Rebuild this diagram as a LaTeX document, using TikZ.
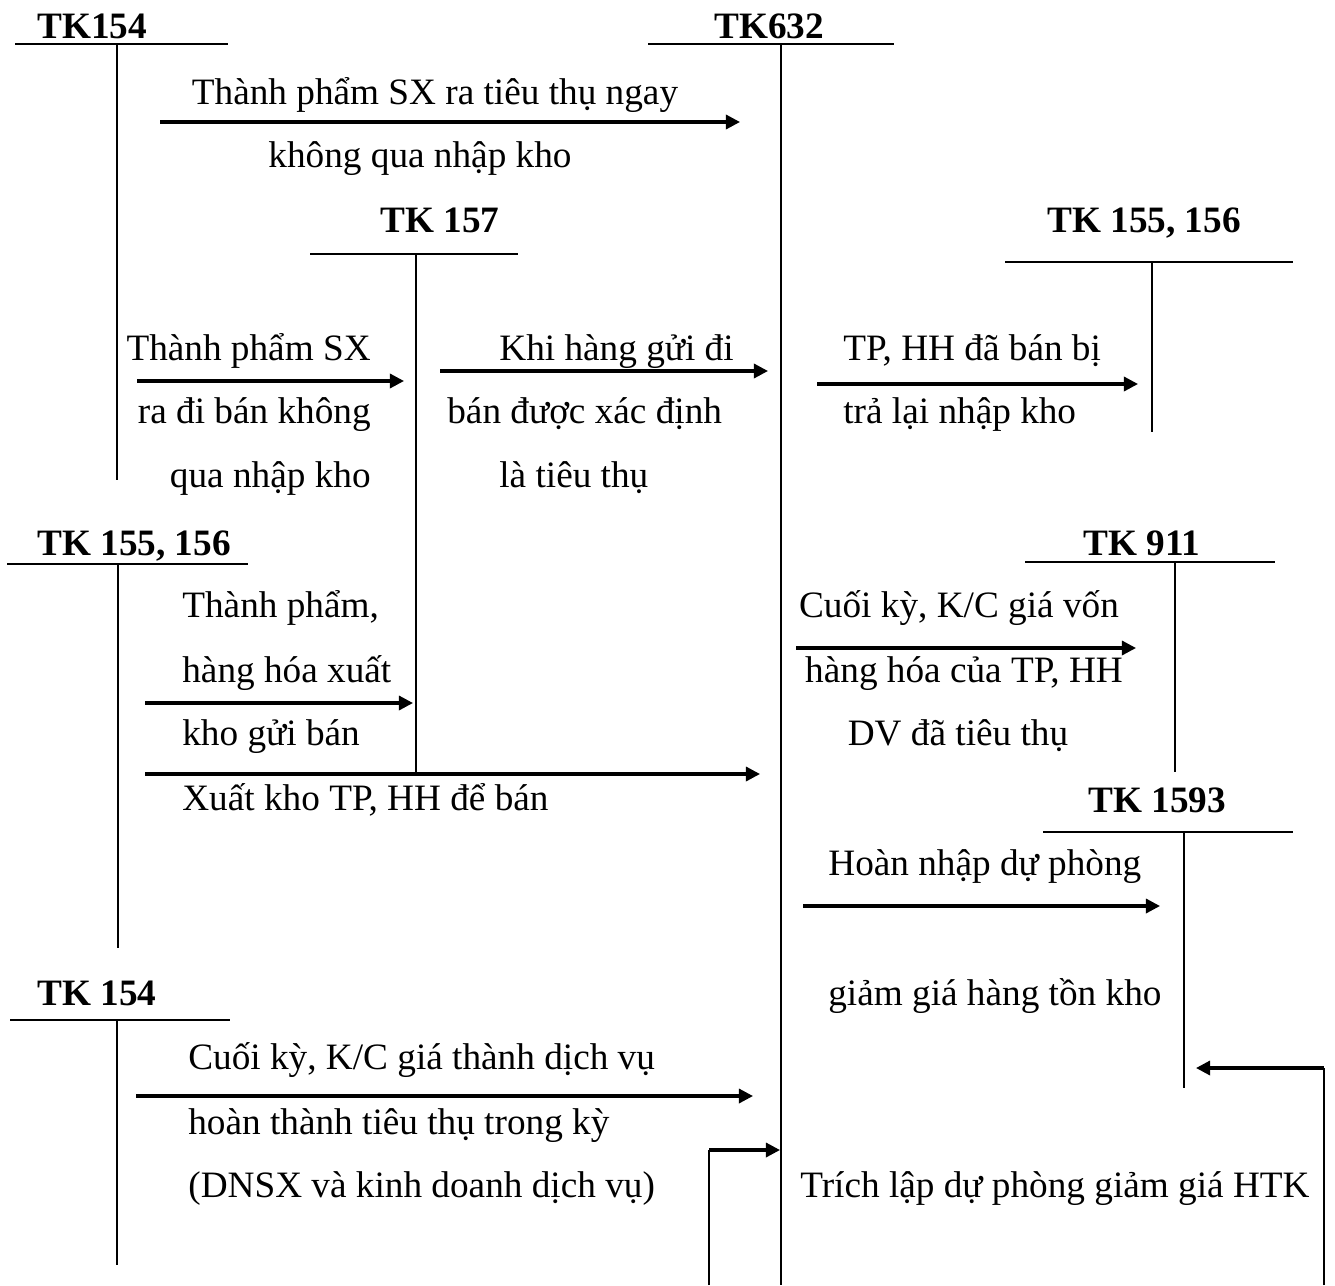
\documentclass[tikz,border=0pt]{standalone}
\usepackage{fontspec}
\setmainfont{Liberation Serif}
\usetikzlibrary{arrows.meta}
\tikzset{
  txt/.style={inner sep=0pt, font=\fontsize{21.2}{25}\selectfont},
  acct/.style={txt, font=\fontsize{21.2}{25}\selectfont\bfseries},
  bar/.style={line width=1.4pt},
  stem/.style={line width=1pt},
  post/.style={-{Triangle[length=8pt, width=8pt]}, line width=1.8pt},
}
% #1 name, #2 title, #3 title base, #4/#5 bar ends, #6 bar y, #7 stem x, #8 stem end
\newcommand{\tacct}[8]{%
  \node[acct, anchor=base west] (#1) at #3 {#2};
  \draw[bar] (#4,#6) -- (#5,#6);
  \draw[stem] (#7,#6) -- (#7,#8);}

\begin{document}
\begin{tikzpicture}[x=0.02cm, y=-0.02cm]
  \useasboundingbox (0,0) rectangle (1335,1285);
  % accounts
  \tacct{tkA}{TK154}{(37,38)}{15}{228}{44}{117}{480}
  \tacct{tkB}{TK632}{(714,38)}{648}{894}{44}{781}{1285}
  \tacct{tkC}{TK 157}{(380,232)}{310}{518}{254}{416}{772}
  \tacct{tkD}{TK 155, 156}{(1047,232)}{1005}{1293}{262}{1152}{432}
  \tacct{tkE}{TK 155, 156}{(37,555)}{7}{248}{564}{118}{948}
  \tacct{tkF}{TK 911}{(1083,555)}{1025}{1275}{562}{1175}{772}
  \tacct{tkG}{TK 1593}{(1088,812)}{1043}{1293}{832}{1184}{1088}
  \tacct{tkH}{TK 154}{(37,1005)}{10}{230}{1020}{117}{1265}
  % arrow ends
  \coordinate (a0) at (160,122);  \coordinate (a1) at (740,122);
  \coordinate (b0) at (137,381);  \coordinate (b1) at (404,381);
  \coordinate (c0) at (440,371);  \coordinate (c1) at (768,371);
  \coordinate (d0) at (817,384);  \coordinate (d1) at (1138,384);
  \coordinate (e0) at (796,648);  \coordinate (e1) at (1136,648);
  \coordinate (f0) at (145,703);  \coordinate (f1) at (413,703);
  \coordinate (g0) at (145,774);  \coordinate (g1) at (760,774);
  \coordinate (h0) at (803,906);  \coordinate (h1) at (1160,906);
  \coordinate (i0) at (136,1096); \coordinate (i1) at (753,1096);
  \coordinate (j0) at (1324,1285); \coordinate (j1) at (1196,1068);
  \coordinate (k0) at (709,1285);  \coordinate (k1) at (780,1150);
  \coordinate (jc) at (j0 |- j1);  \coordinate (kc) at (k0 |- k1);
  \draw[post] (a0) -- (a1);
  \draw[post] (b0) -- (b1);
  \draw[post] (c0) -- (c1);
  \draw[post] (d0) -- (d1);
  \draw[post] (e0) -- (e1);
  \draw[post] (f0) -- (f1);
  \draw[post] (g0) -- (g1);
  \draw[post] (h0) -- (h1);
  \draw[post] (i0) -- (i1);
  \draw[stem] (j0) -- (jc);
  \draw[post] (jc) -- (j1);
  \draw[stem] (k0) -- (kc);
  \draw[post] (kc) -- (k1);
  % labels
  \node[txt, anchor=base] (la1) at (435,104) {Thành phẩm SX ra tiêu thụ ngay};
  \node[txt, anchor=base] (la2) at (420,167) {không qua nhập kho};
  \node[txt, anchor=base east] (lb1) at (371,360) {Thành phẩm SX};
  \node[txt, anchor=base east] (lb2) at (371,423) {ra đi bán không};
  \node[txt, anchor=base east] (lb3) at (371,487) {qua nhập kho};
  \node[txt, anchor=base west] (lc1) at (499,360) {Khi hàng gửi đi};
  \node[txt, anchor=base west] (lc2) at (447,423) {bán được xác định};
  \node[txt, anchor=base west] (lc3) at (499,487) {là tiêu thụ};
  \node[txt, anchor=base west] (ld1) at (843,360) {TP, HH đã bán bị};
  \node[txt, anchor=base west] (ld2) at (843,423) {trả lại nhập kho};
  \node[txt, anchor=base] (le1) at (959,617) {Cuối kỳ, K/C giá vốn};
  \node[txt, anchor=base] (le2) at (964,682) {hàng hóa của TP, HH};
  \node[txt, anchor=base] (le3) at (958,745) {DV đã tiêu thụ};
  \node[txt, anchor=base west] (lf1) at (182,617) {Thành phẩm,};
  \node[txt, anchor=base west] (lf2) at (182,682) {hàng hóa xuất};
  \node[txt, anchor=base west] (lf3) at (182,745) {kho gửi bán};
  \node[txt, anchor=base west] (lg1) at (182,810) {Xuất kho TP, HH để bán};
  \node[txt, anchor=base west] (lh1) at (828,875) {Hoàn nhập dự phòng};
  \node[txt, anchor=base west] (lh2) at (828,1005) {giảm giá hàng tồn kho};
  \node[txt, anchor=base west] (li1) at (188,1069) {Cuối kỳ, K/C giá thành dịch vụ};
  \node[txt, anchor=base west] (li2) at (188,1134) {hoàn thành tiêu thụ trong kỳ};
  \node[txt, anchor=base west] (li3) at (188,1197) {(DNSX và kinh doanh dịch vụ)};
  \node[txt, anchor=base west] (lk1) at (800,1197) {Trích lập dự phòng giảm giá HTK};
\end{tikzpicture}
\end{document}
